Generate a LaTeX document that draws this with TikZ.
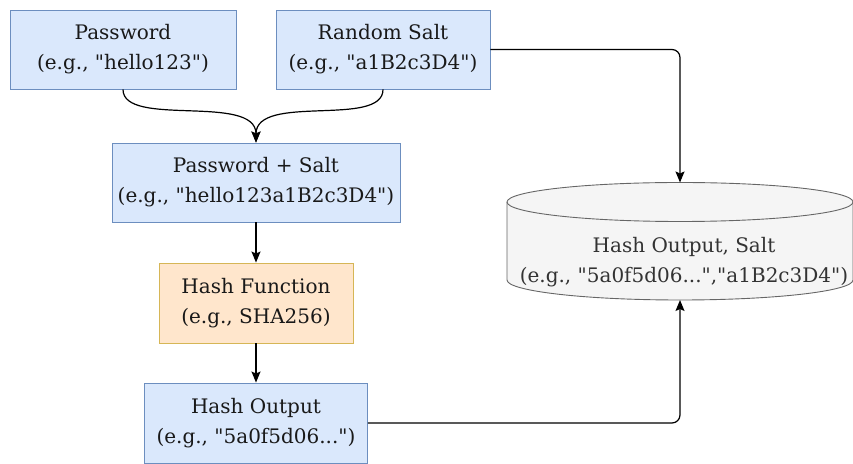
\documentclass[tikz,border=0pt]{standalone}
\usepackage{fontspec}
\setmainfont{DejaVu Serif}[Ligatures=TeXOff]
\usetikzlibrary{arrows.meta,positioning}
\definecolor{boxfill}{HTML}{DAE8FC}
\definecolor{boxline}{HTML}{6C8EBF}
\definecolor{hashfill}{HTML}{FFE6CC}
\definecolor{hashline}{HTML}{D6B656}
\definecolor{dbfill}{HTML}{F5F5F5}
\definecolor{dbline}{HTML}{666666}
\definecolor{dbtext}{HTML}{333333}
\tikzset{
    stepbox/.style={draw=boxline, fill=boxfill, line width=0.9pt, align=center, text=black!90,
      minimum height=79pt, inner sep=0pt, font=\fontsize{20}{30}\selectfont},
    hashbox/.style={stepbox, draw=hashline, fill=hashfill},
    link/.style={line width=1.2pt, -{Stealth[length=11pt,width=9pt,inset=2pt]}},
  }
\begin{document}
\begin{tikzpicture}[x=1pt,y=1pt]
				  %cadre 853x463
				  \useasboundingbox (0,0) rectangle (853,463);
				  %cylindre
				  \draw[draw=dbline, fill=dbfill, line width=0.9pt] (507,261) -- (507,183) arc[start angle=180, end angle=360, x radius=173pt, y radius=20pt] -- (853,261) arc[start angle=0, end angle=180, x radius=173pt, y radius=19.5pt] -- cycle;
				  \draw[draw=dbline, line width=0.9pt] (507,261) arc[start angle=180, end angle=360, x radius=173pt, y radius=19.5pt];
				  \node[align=center, text=dbtext, font=\fontsize{20}{30}\selectfont] (db) at (684,201) {Hash Output, Salt\\(e.g., "5a0f5d06...","a1B2c3D4")};
				  \coordinate (dbtop) at (680,280.5);
				  \coordinate (dbbot) at (680,163);
				  %boites
				  \node[stepbox, minimum width=226pt] (pw) at (123,413.5) {Password\\(e.g., "hello123")};
				  \node[stepbox, minimum width=214pt] (rs) at (383,413.5) {Random Salt\\(e.g., "a1B2c3D4")};
				  \node[stepbox, minimum width=288pt] (ps) at (256,280.5) {Password + Salt\\(e.g., "hello123a1B2c3D4")};
				  \node[hashbox, minimum width=194pt, minimum height=80pt] (hf) at (256,160) {Hash Function\\(e.g., SHA256)};
				  \node[stepbox, minimum width=223pt, minimum height=80pt] (ho) at (256,40) {Hash Output\\(e.g., "5a0f5d06...")};
				  %fleches
				  \draw[link] (pw.south) .. controls (123,335) and (256,370) .. (ps.north);
				  \draw[link] (rs.south) .. controls (383,335) and (256,370) .. (ps.north);
				  \draw[link] (ps) -- (hf);
				  \draw[link] (hf) -- (ho);
				  \draw[link, rounded corners=8pt] (rs.east) -| (dbtop);
				  \draw[link, rounded corners=8pt] (ho.east) -| (dbbot);
				  \end{tikzpicture}
\end{document}
